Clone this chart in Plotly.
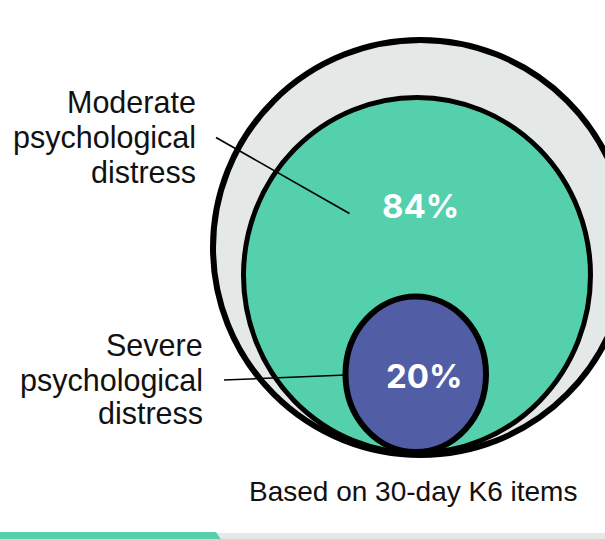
import plotly.graph_objects as go

# ---- data ----
categories = ["Moderate psychological distress", "Severe psychological distress"]
label_lines = [["Moderate", "psychological", "distress"], ["Severe", "psychological", "distress"]]
values = [84, 20]
footnote = "Based on 30-day K6 items"

# ---- styles ----
GRAY = "#e4e8e7"
GREEN = "#55d0ad"
PURPLE = "#515ea6"
FONT = "Liberation Sans, Arial, Helvetica, sans-serif"
BOLD_FONT = "Inter, Liberation Sans, Arial, sans-serif"

W, H = 605, 539

fig = go.Figure()
# invisible trace to establish axes
fig.add_trace(go.Scatter(x=[0, W], y=[0, H], mode="markers",
                         marker=dict(opacity=0), hoverinfo="skip", showlegend=False))

shapes = []
# outer (total) circle
shapes.append(dict(type="circle", xref="x", yref="y", x0=213, y0=40, x1=628, y1=455,
                   fillcolor=GRAY, line=dict(color="black", width=6), layer="above"))
# moderate circle
shapes.append(dict(type="circle", xref="x", yref="y", x0=243.5, y0=97.5, x1=590.5, y1=453,
                   fillcolor=GREEN, line=dict(color="black", width=5), layer="above"))
# severe circle
shapes.append(dict(type="circle", xref="x", yref="y", x0=345.5, y0=296.5, x1=486, y1=452,
                   fillcolor=PURPLE, line=dict(color="black", width=6), layer="above"))
# leader lines
shapes.append(dict(type="line", xref="x", yref="y", x0=216, y0=137.5, x1=349.5, y1=213.5,
                   line=dict(color="black", width=1.6), layer="above"))
shapes.append(dict(type="line", xref="x", yref="y", x0=224, y0=380, x1=346, y1=375,
                   line=dict(color="black", width=1.6), layer="above"))
# bottom decorative band
shapes.append(dict(type="rect", xref="x", yref="y", x0=190, y0=533, x1=W, y1=H + 2,
                   fillcolor=GRAY, line=dict(width=0), layer="above"))
shapes.append(dict(type="path", xref="x", yref="y",
                   path=f"M 0 532 L 216 532 L 222 {H+2} L 0 {H+2} Z",
                   fillcolor=GREEN, line=dict(width=0), layer="above"))

annotations = []
# category labels, one annotation per line
label_pos = [(198, [102, 137, 172]), (205, [345, 380, 413])]
for (xr, ys), lines in zip(label_pos, label_lines):
    for yy, t in zip(ys, lines):
        annotations.append(dict(x=xr, y=yy, xref="x", yref="y", text=t, showarrow=False,
                                xanchor="right", yanchor="middle",
                                font=dict(family=FONT, size=30.5, color="#111111")))
# percentage labels
pct_pos = [(420, 206), (424.5, 376)]
for (px, py), v in zip(pct_pos, values):
    annotations.append(dict(x=px, y=py, xref="x", yref="y", text=f"<b>{v}%</b>", showarrow=False,
                            xanchor="center", yanchor="middle",
                            font=dict(family=BOLD_FONT, size=33, color="white")))
# footnote
annotations.append(dict(x=412.5, y=491, xref="x", yref="y", text=footnote, showarrow=False,
                        xanchor="center", yanchor="middle",
                        font=dict(family=FONT, size=28, color="#111111")))

fig.update_layout(
    width=W, height=H,
    margin=dict(l=0, r=0, t=0, b=0),
    paper_bgcolor="white", plot_bgcolor="white",
    xaxis=dict(range=[0, W], visible=False, fixedrange=True),
    yaxis=dict(range=[H, 0], visible=False, fixedrange=True),
    shapes=shapes, annotations=annotations,
    showlegend=False,
)

fig.write_html("out.html", config={"displayModeBar": False},
               post_script="document.body.style.margin='0';document.body.style.overflow='hidden';")
